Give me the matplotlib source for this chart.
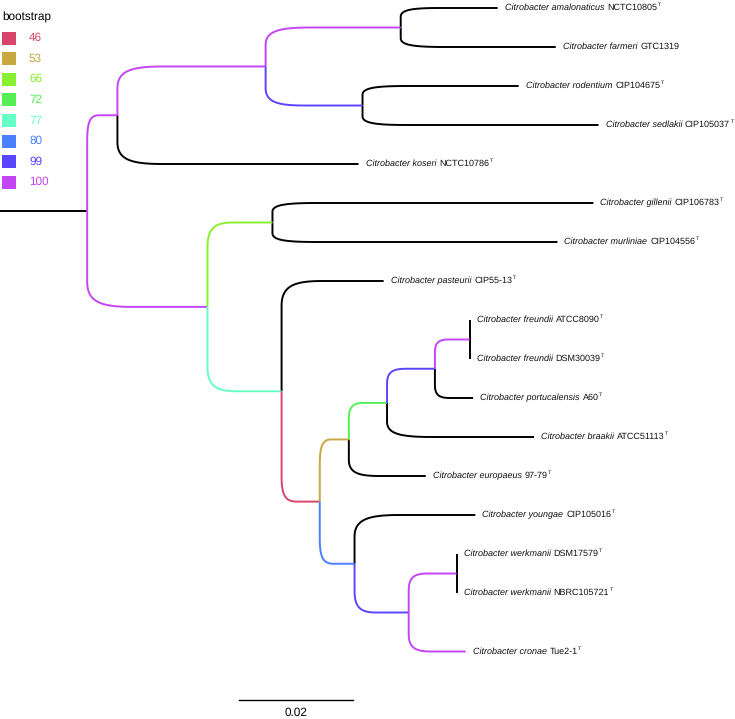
import numpy as np
import matplotlib
matplotlib.use("Agg")
import matplotlib.pyplot as plt
from matplotlib.patches import Rectangle

plt.rcParams['font.family'] = ['Liberation Sans', 'DejaVu Sans']
plt.rcParams['text.hinting'] = 'no_hinting'

# tips (top to bottom)
tip_names = ["amalonaticus", "farmeri", "rodentium", "sedlakii", "koseri",
             "gillenii", "murliniae", "pasteurii", "freundii_a", "freundii_b",
             "portucalensis", "braakii", "europaeus", "youngae",
             "werkmanii_a", "werkmanii_b", "cronae"]
tip_species = ["amalonaticus", "farmeri", "rodentium", "sedlakii", "koseri",
               "gillenii", "murliniae", "pasteurii", "freundii", "freundii",
               "portucalensis", "braakii", "europaeus", "youngae",
               "werkmanii", "werkmanii", "cronae"]
tip_strain = ["NCTC10805", "GTC1319", "CIP104675", "CIP105037", "NCTC10786",
              "CIP106783", "CIP104556", "CIP55-13", "ATCC8090", "DSM30039",
              "A60", "ATCC51113", "97-79", "CIP105016",
              "DSM17579", "NBRC105721", "Tue2-1"]
tip_type = [True, False, True, True, True, True, True, True, True, True,
            True, True, True, True, True, True, True]
tip_y = [0, 1, 2, 3, 4, 5, 6, 7, 8, 9, 10, 11, 12, 13, 14, 15, 16.5]

# edges: child, parent, branch length, bootstrap (None = no support shown)
edge_child = ["n_a", "n_b", "n_c", "amalonaticus", "farmeri", "n_d", "rodentium",
              "sedlakii", "koseri", "n_e", "n_f", "gillenii", "murliniae", "n_g",
              "pasteurii", "n_h", "n_i", "n_j", "n_k", "n_l", "freundii_a",
              "freundii_b", "portucalensis", "braakii", "europaeus", "n_m",
              "youngae", "n_n", "n_o", "werkmanii_a", "werkmanii_b", "cronae"]
edge_parent = ["root", "n_a", "n_b", "n_c", "n_c", "n_b", "n_d",
               "n_d", "n_a", "root", "n_e", "n_f", "n_f", "n_e",
               "n_g", "n_g", "n_h", "n_i", "n_j", "n_k", "n_l",
               "n_l", "n_k", "n_j", "n_i", "n_h",
               "n_m", "n_m", "n_n", "n_o", "n_o", "n_n"]
edge_len = [0.0053, 0.0260, 0.0237, 0.0170, 0.0272, 0.0170, 0.0274,
            0.0414, 0.0423, 0.0211, 0.0114, 0.0563, 0.0500, 0.0130,
            0.0179, 0.0067, 0.0051, 0.0067, 0.0084, 0.0061, 0.0,
            0.0, 0.0067, 0.0258, 0.0135, 0.0061,
            0.0212, 0.0095, 0.0084, 0.0, 0.0, 0.0100]
edge_boot = [100, 100, 100, None, None, 99, None,
             None, None, 100, 66, None, None, 77,
             None, 46, 53, 72, 99, 100, None,
             None, None, None, None, 80,
             None, 99, 100, None, None, 100]
root_len = 0.0153

boot_levels = [46, 53, 66, 72, 77, 80, 99, 100]
boot_colors = ["#D8456A", "#C8A840", "#88F030", "#55EE55",
               "#66FFC4", "#4A80FF", "#5A45FF", "#C445F5"]
col_of = dict(zip(boot_levels, boot_colors))

# ---- layout ----
W, H = 735, 719
sx = 5700.0   # pixels per substitution unit
sy = 39.0     # pixels per tip step
y0_px = 8.0

xpos = {"root": root_len}
children = {}
for c, p in zip(edge_child, edge_parent):
    children.setdefault(p, []).append(c)

def place_x(node):
    for c in children.get(node, []):
        i = edge_child.index(c)
        xpos[c] = xpos[node] + edge_len[i]
        place_x(c)
place_x("root")

ypos = dict(zip(tip_names, tip_y))
def place_y(node):
    if node in ypos:
        return ypos[node]
    ys = [place_y(c) for c in children[node]]
    ypos[node] = (min(ys) + max(ys)) / 2
    return ypos[node]
place_y("root")

fig = plt.figure(figsize=(W / 100, H / 100), dpi=100)
ax = fig.add_axes([0, 0, 1, 1])
ax.set_xlim(0, W / sx)
ax.set_ylim((H - y0_px) / sy, -y0_px / sy)
ax.axis("off")

lw = 1.4

def edge_path(px, py, cx, cy):
    dxp = (cx - px) * sx
    dyp = (cy - py) * sy
    if abs(dyp) < 1e-9:
        return [px, cx], [py, cy]
    if dxp <= 1e-9:
        return [px, px], [py, cy]
    s = np.sign(dyp)
    ry = min(abs(dyp) * 0.45, 25.0)
    rx = min(dxp * 0.4, 45.0)
    t = np.linspace(0, 1, 40)
    # cubic bezier corner in pixel space
    p0 = np.array([0.0, -s * ry])
    p1 = np.array([0.0, -s * ry * 0.2])
    p2 = np.array([rx * 0.3, 0.0])
    p3 = np.array([rx, 0.0])
    b = ((1 - t) ** 3)[:, None] * p0 + (3 * (1 - t) ** 2 * t)[:, None] * p1 \
        + (3 * (1 - t) * t ** 2)[:, None] * p2 + (t ** 3)[:, None] * p3
    bx = px + b[:, 0] / sx
    by = cy + b[:, 1] / sy
    xs = [px] + list(bx) + [cx]
    ys = [py] + list(by) + [cy]
    return xs, ys

# root edge
ax.plot([0, root_len], [ypos["root"], ypos["root"]], color="black", lw=lw,
        solid_capstyle="butt")

# draw black edges first, then coloured ones on top
order = sorted(range(len(edge_child)), key=lambda i: edge_boot[i] is not None)
for i in order:
    c, p = edge_child[i], edge_parent[i]
    xs, ys = edge_path(xpos[p], ypos[p], xpos[c], ypos[c])
    col = "black" if edge_boot[i] is None else col_of[edge_boot[i]]
    ax.plot(xs, ys, color=col, lw=lw, solid_capstyle="butt",
            solid_joinstyle="round")

# tip labels: italic species + roman strain + superscript T
renderer = fig.canvas.get_renderer()
fs = 6.5
for name, sp, st, ty in zip(tip_names, tip_species, tip_strain, tip_type):
    x_px = (xpos[name]) * sx + 7
    y_px = y0_px + ypos[name] * sy
    t1 = fig.text(x_px / W, 1 - y_px / H, "Citrobacter " + sp,
                  fontsize=fs, style="italic", va="center", ha="left",
                  color="#111111")
    w1 = t1.get_window_extent(renderer).width + 3
    t2 = fig.text((x_px + w1) / W, 1 - y_px / H, st, fontsize=fs,
                  va="center", ha="left", color="#111111")
    w2 = t2.get_window_extent(renderer).width
    if ty:
        fig.text((x_px + w1 + w2 + 0.5) / W, 1 - (y_px - 3) / H, "T",
                 fontsize=fs * 0.6, va="center", ha="left", color="#111111")

# scale bar
bar_x = 239 / sx
bar_y = (700 - y0_px) / sy
ax.plot([bar_x, bar_x + 0.02], [bar_y, bar_y], color="black", lw=1.0)
ax.text(bar_x + 0.01, (713 - y0_px) / sy, "0.02", fontsize=8.5,
        ha="center", va="center")

# legend
fig.text(2 / W, 1 - 17 / H, "bootstrap", fontsize=8.5, ha="left", va="center")
for k, (lv, cl) in enumerate(zip(boot_levels, boot_colors)):
    yc = 38 + 20.6 * k
    fig.patches.append(Rectangle((2 / W, 1 - (yc + 6.5) / H), 14 / W, 13 / H,
                                 transform=fig.transFigure, facecolor=cl,
                                 edgecolor="none"))
    fig.text(29 / W, 1 - yc / H, str(lv), fontsize=8.5, color=cl,
             ha="left", va="center")

fig.savefig("out.png", dpi=100)
